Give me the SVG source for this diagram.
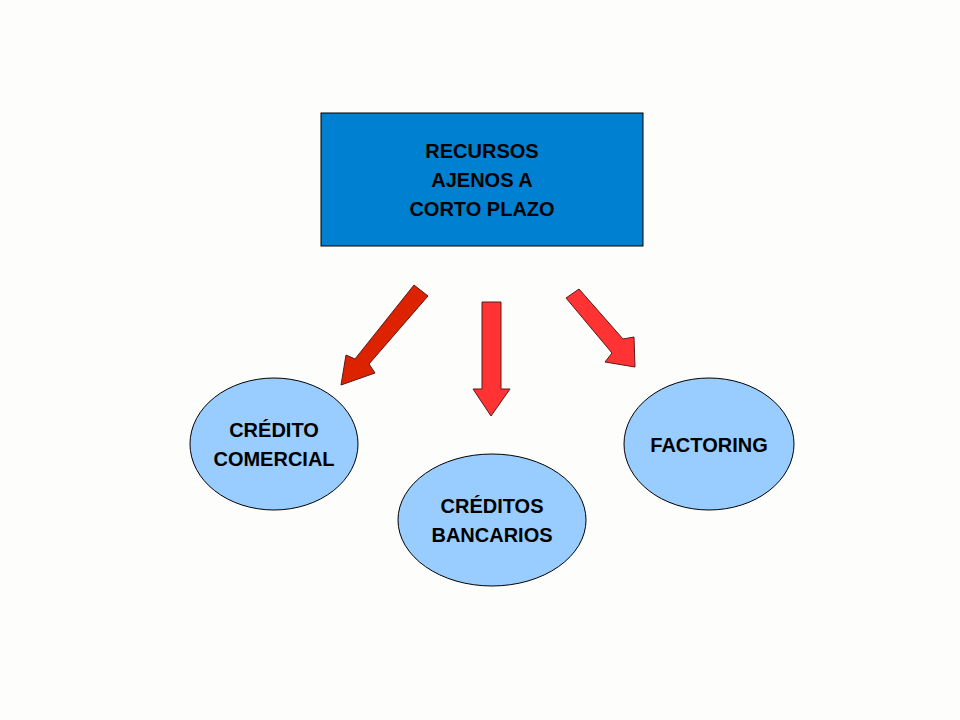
<svg xmlns="http://www.w3.org/2000/svg" width="960" height="720" viewBox="0 0 960 720">
<style>
.t{font-family:"Liberation Sans",Arial,sans-serif;font-weight:bold;font-size:20px;fill:#000;text-anchor:middle}
.e{fill:#99ccff;stroke:#000;stroke-width:1}
.a{stroke:#5a1a1a;stroke-width:1}
</style>
<rect width="960" height="720" fill="#fdfdfb"/>
<g id="top"><rect x="321" y="113" width="322" height="133" fill="#0080d0" stroke="#000"/>
<text class="t" x="482" y="158">RECURSOS</text><text class="t" x="482" y="187">AJENOS A</text><text class="t" x="482" y="216">CORTO PLAZO</text></g>
<g id="connectors">
<polygon class="a" fill="#dd2200" points="414,285 428,296 369,364 375,373 341,385 346,355 355,359"/>
<polygon class="a" fill="#ff3333" points="482,302 501,302 501,389 510,389 491,416 473,389 482,389"/>
<polygon class="a" fill="#ff3333" points="566,298 579,289 623,339 634,337 635,367 605,362 612,353"/>
</g>
<g id="n1"><ellipse class="e" cx="274" cy="444" rx="84" ry="66"/><text class="t" x="274" y="437">CRÉDITO</text><text class="t" x="274" y="466">COMERCIAL</text></g>
<g id="n2"><ellipse class="e" cx="492" cy="520" rx="94" ry="66"/><text class="t" x="492" y="513">CRÉDITOS</text><text class="t" x="492" y="542">BANCARIOS</text></g>
<g id="n3"><ellipse class="e" cx="709" cy="444" rx="85" ry="66"/><text class="t" x="709" y="452">FACTORING</text></g>
</svg>
